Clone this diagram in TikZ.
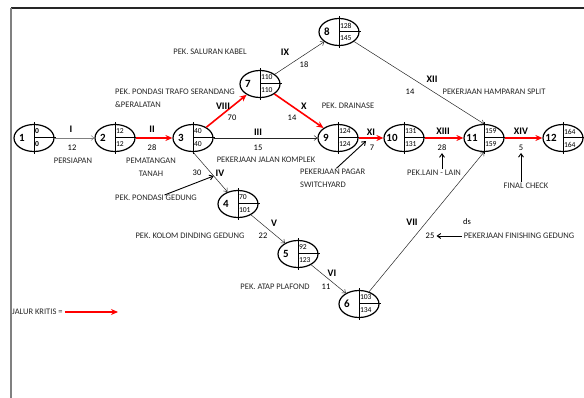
\documentclass[tikz,border=0pt]{standalone}
\usepackage{fontspec}
\setmainfont{Carlito}
\usetikzlibrary{shapes.geometric,arrows.meta,positioning}

% event: ellipse split in number | early / late
\newcommand{\eventnode}[5]{%
  \node[event] (#1) at (#2) {};
  \draw[divide] ([yshift=1.5pt]#1.north) -- ([yshift=-1.5pt]#1.south);
  \draw[divide] (#1.center) -- ([xshift=1.5pt]#1.east);
  \node[evnum]  (#1num)   at ([xshift=-12pt]#1.center) {#3};
  \node[evtime] (#1early) at ([xshift=0.8pt,yshift=6.5pt]#1.center) {#4};
  \node[evtime] (#1late)  at ([xshift=0.8pt,yshift=-6.5pt]#1.center) {#5};
}

\begin{document}
\begin{tikzpicture}[
  x=1pt, y=-1pt,
  event/.style={ellipse, draw=black, line width=1.2pt, minimum width=40pt,
                minimum height=27pt, inner sep=0pt},
  divide/.style={line width=1pt},
  evnum/.style={font=\fontsize{11}{12}\selectfont\bfseries, inner sep=0pt},
  evtime/.style={font=\fontsize{7.6}{8}\selectfont, anchor=west, inner sep=0pt},
  roman/.style={font=\fontsize{10}{12}\selectfont\bfseries, inner sep=0pt},
  dur/.style={font=\fontsize{8.5}{10}\selectfont, inner sep=0pt},
  desc/.style={font=\fontsize{8.5}{13}\selectfont, inner sep=0pt, text=black!85},
  kritis/.style={red, line width=1.6pt, -{Stealth[length=7pt,width=6pt]}},
  act/.style={black!85, line width=0.5pt, -{Straight Barb[length=3pt,width=5pt]}},
  note/.style={black, line width=0.9pt, -{Straight Barb[length=3.5pt,width=5pt]}}
]
\useasboundingbox (0,0) rectangle (584,398);

% --- frame ---
\draw[black!85, line width=1.3pt] (11,8) -- (584,8);
\draw[gray, line width=1.3pt] (11,8) -- (11,398);

% --- Events ---
\eventnode{1}{34,138}{1}{\textbf{0}}{\textbf{0}}
\eventnode{2}{115,138}{2}{12}{12}
\eventnode{3}{193,138}{3}{40}{40}
\eventnode{4}{238,204}{4}{70}{101}
\eventnode{5}{298,254}{5}{92}{123}
\eventnode{6}{359,304}{6}{103}{134}
\eventnode{7}{260,84}{7}{110}{110}
\eventnode{8}{339,32}{8}{128}{145}
\eventnode{9}{338,138}{9}{124}{124}
\eventnode{10}{404,138}{10}{131}{131}
\eventnode{11}{484,138}{11}{159}{159}
\eventnode{12}{563,138}{12}{164}{164}

% --- Activities ---
\draw[act, gray] (1) -- (2);
\draw[kritis] (2) -- (3);
\draw[kritis] (3) -- (7);
\draw[kritis] (7) -- (9);
\draw[kritis] (9) -- coordinate[pos=0.3] (e910) (10);
\draw[kritis] (10) -- (11);
\draw[kritis] (11) -- (12);
\draw[act] (3) -- (9);
\draw[act] (7) -- (8);
\draw[act] (8) -- (11.north);
\draw[act] (3.south) -- coordinate[pos=0.6] (e34) (4);
\draw[act] (4) -- (5);
\draw[act] (5) -- (6);
\draw[act] (6) -- (11.south);

% --- Activity labels ---
\node[roman] (r1)  at (71,129)  {I};
\node[roman] (r2)  at (152,129) {II};
\node[roman] (r3)  at (258,132) {III};
\node[roman] (r4)  at (220,173) {IV};
\node[roman] (r5)  at (274,223) {V};
\node[roman] (r6)  at (332,273) {VI};
\node[roman] (r7)  at (412,222) {VII};
\node[roman] (r8)  at (223,106) {VIII};
\node[roman] (r9)  at (285,52)  {IX};
\node[roman] (r10) at (304,106) {X};
\node[roman] (r11) at (371,132) {XI};
\node[roman] (r12) at (432,79)  {XII};
\node[roman] (r13) at (443,131) {XIII};
\node[roman] (r14) at (521,131) {XIV};

\node[dur] (d1)  at (72,148)  {12};
\node[dur] (d2)  at (152,148) {28};
\node[dur] (d3)  at (258,148) {15};
\node[dur] (d4)  at (197,173) {30};
\node[dur] (d5)  at (263,236) {22};
\node[dur] (d6)  at (326,287) {11};
\node[dur] (d7)  at (430,236) {25};
\node[dur] (d8)  at (232,118) {70};
\node[dur] (d9)  at (304,65)  {18};
\node[dur] (d10) at (292,118) {14};
\node[dur] (d11) at (372,148) {7};
\node[dur] (d12) at (410,92)  {14};
\node[dur] (d13) at (442,148) {28};
\node[dur] (d14) at (521,148) {5};
\node[dur] (ds)  at (467,222) {ds};

% --- Descriptions ---
\node[desc] (tPersiapan) at (73,161)  {PERSIAPAN};
\node[desc, align=center] (tMatang) at (151,167) {PEMATANGAN\\TANAH};
\node[desc] (tJalan)     at (266,160) {PEKERJAAN JALAN KOMPLEK};
\node[desc, align=left, anchor=north west] (tPagar) at (300,169) {PEKERJAAN PAGAR\\SWITCHYARD};
\node[desc] (tLain)      at (434,173) {PEK.LAIN - LAIN};
\node[desc] (tFinal)     at (526,186) {FINAL CHECK};
\node[desc] (tPondasiGd) at (156,198) {PEK. PONDASI GEDUNG};
\node[desc] (tKolom)     at (190,236) {PEK. KOLOM DINDING GEDUNG};
\node[desc] (tAtap)      at (275,287) {PEK. ATAP PLAFOND};
\node[desc] (tFinish)    at (519,236) {PEKERJAAN FINISHING GEDUNG};
\node[desc] (tSaluran)   at (210,52)  {PEK. SALURAN KABEL};
\node[desc, align=left, anchor=west] (tTrafo) at (115,98.5) {PEK. PONDASI TRAFO SERANDANG\\\&PERALATAN};
\node[desc] (tDrainase)  at (348,106) {PEK. DRAINASE};
\node[desc] (tHampar)    at (494,92)  {PEKERJAAN HAMPARAN SPLIT};

% --- Pointers ---
\draw[note] ([xshift=8.5pt]tPondasiGd.north) -- (e34);
\draw[note, shorten <=1pt] ([xshift=3pt]tPagar.north) -- ([yshift=-3pt]e910);
\draw[note, shorten <=1pt, shorten >=2pt] (tLain.north -| d13.south) -- (d13.south);
\draw[note, shorten <=1pt, shorten >=2pt] (tFinal.north -| d14.south) -- (d14.south);
\draw[note, shorten <=2pt, shorten >=2pt] (tFinish.west) -- (d7.east);

% --- Legend ---
\node[desc, anchor=west] (legend) at (12,312) {JALUR KRITIS =};
\coordinate (legendend) at (118,312);
\draw[kritis, line width=1.2pt] ([xshift=2pt]legend.east) -- (legendend);

\end{tikzpicture}
\end{document}
